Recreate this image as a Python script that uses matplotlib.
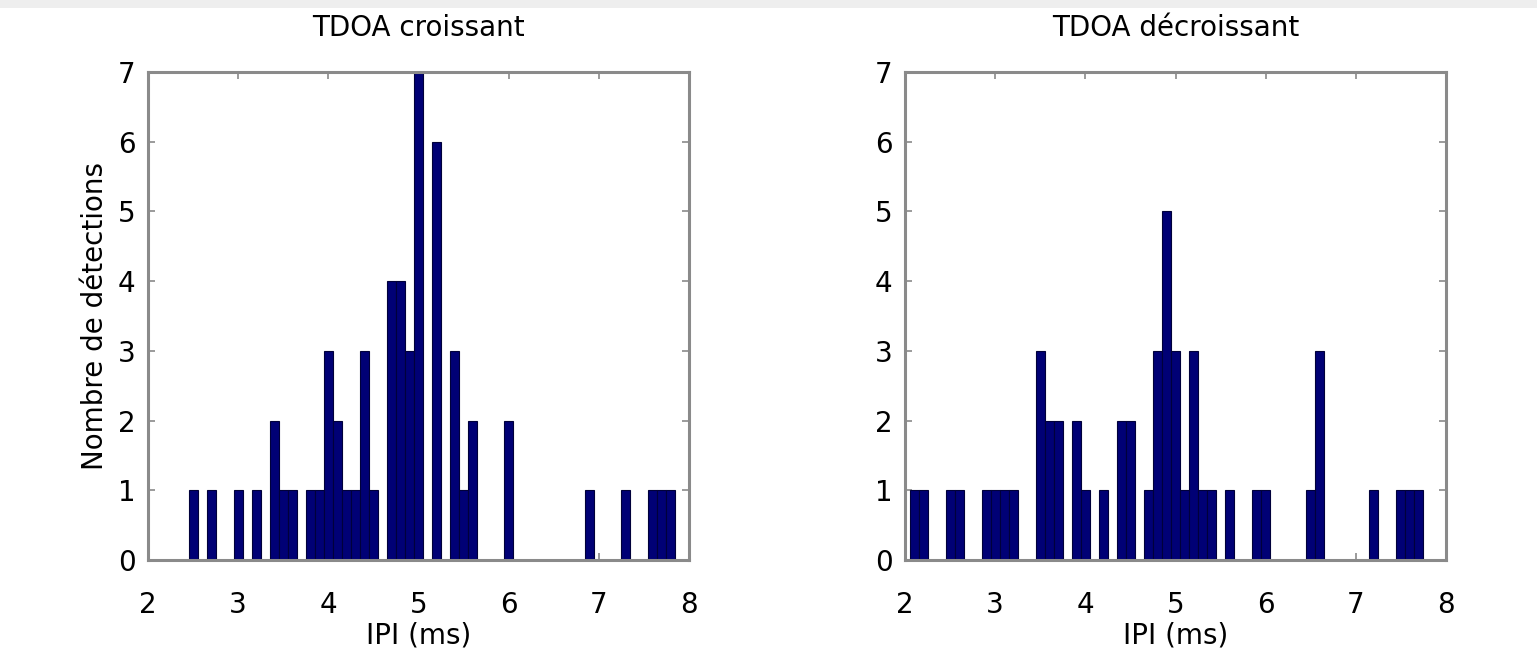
import matplotlib
matplotlib.use("Agg")
import matplotlib.pyplot as plt
from matplotlib.patches import Rectangle

# Histogram bins (centre of each 0.1 ms bin) and counts
centers_croissant = [2.5, 2.7, 3.0, 3.2, 3.4, 3.5, 3.6, 3.8, 3.9, 4.0, 4.1, 4.2, 4.3,
                     4.4, 4.5, 4.7, 4.8, 4.9, 5.0, 5.2, 5.4, 5.5, 5.6, 6.0, 6.9,
                     7.3, 7.6, 7.7, 7.8]
counts_croissant = [1, 1, 1, 1, 2, 1, 1, 1, 1, 3, 2, 1, 1,
                    3, 1, 4, 4, 3, 7, 6, 3, 1, 2, 2, 1,
                    1, 1, 1, 1]

centers_decroissant = [2.1, 2.2, 2.5, 2.6, 2.9, 3.0, 3.1, 3.2, 3.5, 3.6, 3.7, 3.9,
                       4.0, 4.2, 4.4, 4.5, 4.7, 4.8, 4.9, 5.0, 5.1, 5.2, 5.3, 5.4,
                       5.6, 5.9, 6.0, 6.5, 6.6, 7.2, 7.5, 7.6, 7.7]
counts_decroissant = [1, 1, 1, 1, 1, 1, 1, 1, 3, 2, 2, 2,
                      1, 1, 2, 2, 1, 3, 5, 3, 1, 3, 1, 1,
                      1, 1, 1, 1, 3, 1, 1, 1, 1]

titles = ["TDOA croissant", "TDOA décroissant"]
xlabel = "IPI (ms)"
ylabel = "Nombre de détections"
xticks = [2, 3, 4, 5, 6, 7, 8]
yticks = [0, 1, 2, 3, 4, 5, 6, 7]
bin_width = 0.1

plt.rcParams["font.family"] = ["DejaVu Sans"]
FS = 20

fig = plt.figure(figsize=(15.37, 6.5), dpi=100)
fig.patch.set_facecolor("white")
# thin grey band along the top edge of the window
fig.patches.append(Rectangle((0, 1 - 8 / 650), 1, 8 / 650, transform=fig.transFigure,
                             facecolor="#eeeeee", edgecolor="none", zorder=0))

W, H = 1537, 650
positions = [
    (148 / W, (H - 560) / H, 541 / W, 488 / H),
    (905 / W, (H - 560) / H, 541 / W, 488 / H),
]
datasets = [
    (centers_croissant, counts_croissant),
    (centers_decroissant, counts_decroissant),
]

spine_col = "#8a8a8a"
bar_face = "#000075"
bar_edge = "#00003a"

for i, (pos, (cx, cy)) in enumerate(zip(positions, datasets)):
    ax = fig.add_axes(pos)
    ax.bar(cx, cy, width=bin_width, color=bar_face, edgecolor=bar_edge,
           linewidth=0.8, align="center", zorder=2)
    ax.set_xlim(2, 8)
    ax.set_ylim(0, 7)
    ax.set_xticks(xticks)
    ax.set_yticks(yticks)
    ax.tick_params(direction="in", length=5, width=1.2, color=spine_col,
                   top=True, right=True, labelsize=FS, labelcolor="black")
    ax.tick_params(axis="x", pad=22)
    ax.tick_params(axis="y", pad=9)
    for s in ax.spines.values():
        s.set_color(spine_col)
        s.set_linewidth(2.2)
    ax.set_title(titles[i], fontsize=FS, pad=26)
    ax.set_xlabel(xlabel, fontsize=FS, labelpad=2)
    if i == 0:
        ax.set_ylabel(ylabel, fontsize=FS, labelpad=6)

fig.savefig("out.png", dpi=100, facecolor="white")
